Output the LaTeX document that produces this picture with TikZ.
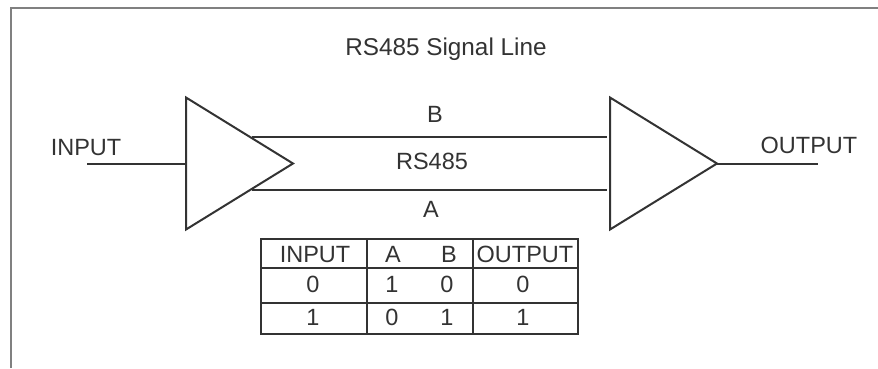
\documentclass[tikz,border=0pt]{standalone}
\usepackage{fontspec}
\setmainfont{Liberation Sans}
\usetikzlibrary{positioning,shapes.geometric}
\definecolor{linegray}{gray}{0.2}
\definecolor{framegray}{gray}{0.5}
\tikzset{
    amp/.style={
           isosceles triangle,
           isosceles triangle stretches,
           shape border rotate=0,
           anchor=lower side,
           draw=linegray,
           line width=2pt,
           minimum width=132pt,
           minimum height=107pt,
           inner sep=0pt,
           outer sep=0pt,
           },
    label/.style={
           text=linegray,
           font=\fontsize{23.5pt}{25pt}\selectfont,
           text height=16.8pt,
           text depth=0pt,
           inner sep=0pt,
           },
    wire/.style={
           draw=linegray,
           line width=2pt,
           },
}

\begin{document}
\begin{tikzpicture}[x=1pt,y=-1pt]
\useasboundingbox (0,0) rectangle (878,368);
\draw[framegray,line width=2pt] (11,368) -- (11,8) -- (878,8);
\node[label,font=\fontsize{24.3pt}{26pt}\selectfont](title) at (446,47){RS485 Signal Line};
\node[amp](driver) at (186,163.5){};
\node[amp](receiver) at (610,163.5){};
\node[label](inlabel) at (86,147){INPUT};
\node[label](outlabel) at (809,145){OUTPUT};
\node[label](blabel) at (435,114){B};
\node[label](rslabel) at (432,161.5){RS485};
\node[label](alabel) at (431,209){A};
\coordinate (instart) at (87,163.5);
\coordinate (outend) at (818,163.5);
\coordinate (bstart) at (252,137);
\coordinate (bend) at (607,137);
\coordinate (astart) at (252,190);
\coordinate (aend) at (607,190);
\draw[wire] (instart) -- (driver.lower side);
\draw[wire] (receiver.apex) -- (outend);
\draw[wire] (bstart) -- (bend);
\draw[wire] (astart) -- (aend);
% truth table
\coordinate (tl) at (261,239);
\coordinate (br) at (578,334);
\draw[wire] (tl) rectangle (br);
\draw[wire] (261,268) -- (578,268);
\draw[wire] (261,303) -- (578,303);
\draw[wire] (367,239) -- (367,334);
\draw[wire] (473,239) -- (473,334);
\node[label](hin) at (315,254){INPUT};
\node[label](ha) at (393,254){A};
\node[label](hb) at (449,254){B};
\node[label](hout) at (525,254){OUTPUT};
\node[label](ain) at (313,284){0};
\node[label](aa) at (392,284){1};
\node[label](ab) at (447,284){0};
\node[label](aout) at (523,284){0};
\node[label](bin) at (313,317){1};
\node[label](ba) at (392,317){0};
\node[label](bb) at (447,317){1};
\node[label](bout) at (523,317){1};
\end{tikzpicture}
\end{document}
